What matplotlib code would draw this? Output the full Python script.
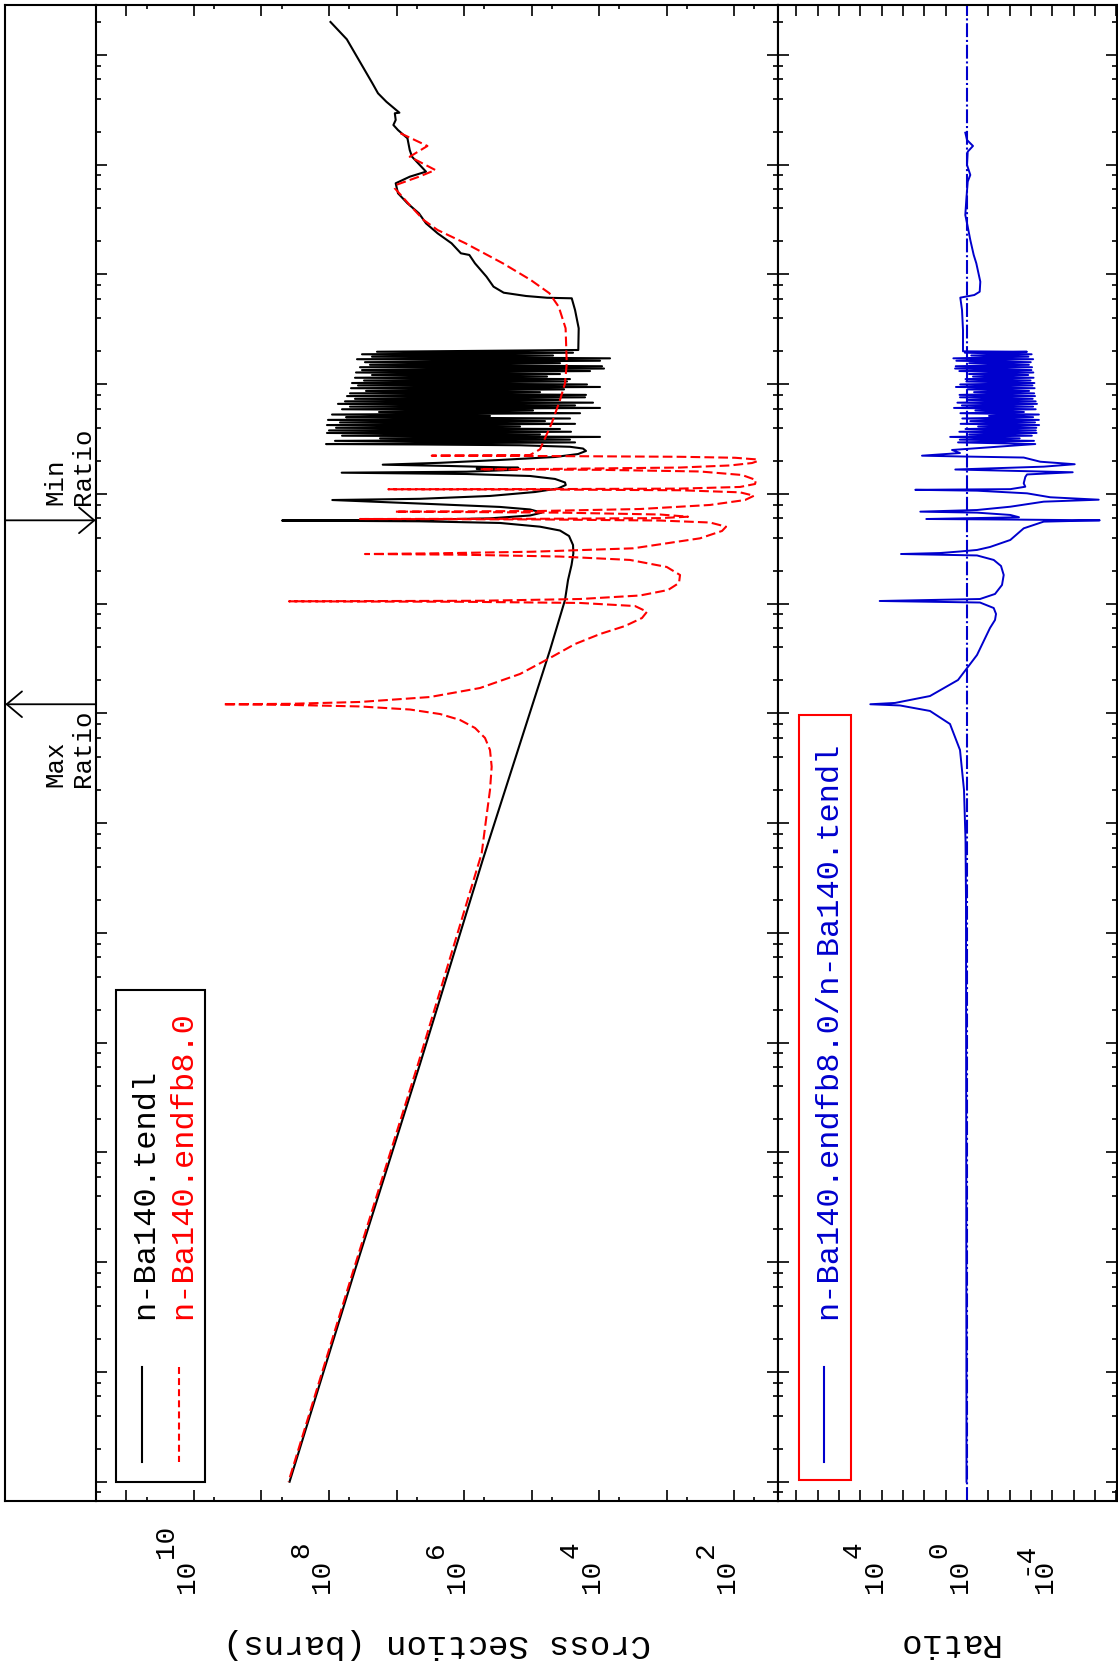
import numpy as np
import matplotlib
matplotlib.use("Agg")
import matplotlib.pyplot as plt
import matplotlib.transforms as mtransforms
from matplotlib.ticker import LogLocator, NullLocator, NullFormatter
from matplotlib.patches import Rectangle

plt.rcParams['font.family'] = ['Liberation Mono', 'DejaVu Sans Mono']
plt.rcParams['lines.scale_dashes'] = False

# all values below are log10 exponents
# energy in MeV, cross section in barns

# n-Ba140.tendl, smooth high-energy part
tendl_high_e = [2.301, 2.143, 1.742, 1.651, 1.574, 1.474, 1.469, 1.408, 1.362, 1.316,
                1.241, 1.134, 1.073, 0.937, 0.891, 0.831, 0.740, 0.649, 0.557, 0.466,
                0.375, 0.284, 0.193, 0.178, 0.102, -0.020, -0.111, -0.166, -0.196, -0.212,
                -0.217, -0.324, -0.490, -0.688]
tendl_high_xs = [7.978, 7.736, 7.357, 7.274, 7.150, 6.957, 7.025, 7.012, 7.046, 6.978,
                 6.838, 6.804, 6.770, 6.563, 6.804, 7.012, 6.978, 6.838, 6.667, 6.563,
                 6.391, 6.184, 6.046, 5.921, 5.838, 5.667, 5.563, 5.412, 5.081, 4.770,
                 4.404, 4.355, 4.301, 4.307]

# resonance forest (peak / valley), same energies used for the ratio
forest_e = [-0.704, -0.713, -0.727, -0.738, -0.749, -0.764, -0.772, -0.786, -0.799, -0.808,
            -0.823, -0.836, -0.845, -0.857, -0.871, -0.880, -0.893, -0.907, -0.916, -0.930,
            -0.941, -0.953, -0.966, -0.975, -0.989, -1.002, -1.011, -1.025, -1.036, -1.047,
            -1.061, -1.072, -1.083, -1.097, -1.108, -1.119, -1.133, -1.143, -1.156, -1.168,
            -1.179, -1.193, -1.204, -1.216, -1.228, -1.239, -1.253, -1.264, -1.276, -1.289,
            -1.300, -1.312, -1.325, -1.336, -1.348, -1.361, -1.372, -1.385, -1.397, -1.408,
            -1.421, -1.433, -1.444, -1.457, -1.469, -1.480, -1.493, -1.505, -1.516, -1.530,
            -1.545]
tendl_forest_xs = [7.289, 4.385, 7.511, 4.681, 7.363, 3.837, 7.585, 3.985, 7.467, 4.578,
                   7.393, 3.955, 7.541, 3.926, 7.511, 4.133, 7.600, 4.578, 7.363, 4.770,
                   7.615, 4.430, 7.481, 4.474, 7.659, 4.178, 7.570, 3.985, 7.674, 4.518,
                   7.452, 4.874, 7.689, 4.193, 7.733, 4.207, 7.615, 4.578, 7.763, 4.089,
                   7.867, 4.355, 7.689, 3.985, 7.807, 4.978, 7.259, 4.281, 7.955, 5.615,
                   7.748, 4.430, 8.015, 4.800, 7.837, 4.355, 8.030, 5.170, 7.896, 4.578,
                   8.000, 4.415, 8.030, 4.874, 7.807, 3.985, 7.244, 4.430, 7.911, 4.355,
                   8.044]

# big resolved resonances and 1/v tail
tendl_low_e = [-1.549, -1.556, -1.570, -1.586, -1.608, -1.636, -1.663, -1.690, -1.716, -1.733,
               -1.745, -1.761, -1.770, -1.779, -1.797, -1.806, -1.818, -1.836, -1.863, -1.895,
               -1.918, -1.950, -1.982, -2.018, -2.044, -2.055, -2.091, -2.118, -2.141, -2.170,
               -2.196, -2.222, -2.235, -2.242, -2.249, -2.264, -2.298, -2.333, -2.383, -2.465,
               -2.541, -2.647, -2.784, -2.966, -3.422, -5.335, -7.194, -9.071, -11.000]
tendl_low_xs = [6.652, 5.170, 4.430, 4.237, 4.193, 4.311, 4.652, 5.467, 6.355, 7.204,
                6.207, 5.195, 5.812, 5.219, 5.960, 7.812, 5.960, 5.022, 4.652, 4.504,
                4.493, 4.607, 4.948, 5.615, 6.652, 7.951, 6.504, 5.467, 5.022, 4.849,
                5.022, 5.615, 6.652, 8.696, 6.652, 5.467, 4.874, 4.578, 4.444, 4.385,
                4.380, 4.407, 4.459, 4.504, 4.726, 5.723, 6.652, 7.615, 8.584]

# n-Ba140.endfb8.0
endf_high_e = [1.287, 1.171, 1.073, 0.952, 0.891, 0.815, 0.785, 0.633, 0.496, 0.405,
               0.284, 0.102, -0.050, -0.171, -0.294, -0.490, -0.809, -0.992, -1.144, -1.356,
               -1.593, -1.645]
endf_high_xs = [6.942, 6.542, 6.804, 6.425, 6.667, 7.012, 7.025, 6.804, 6.597, 6.391,
                5.978, 5.425, 5.012, 4.735, 4.597, 4.495, 4.478, 4.504, 4.578, 4.701,
                4.874, 5.022]
endf_low_e = [-1.651, -1.655, -1.661, -1.670, -1.684, -1.699, -1.718, -1.740, -1.759, -1.771,
              -1.775, -1.780, -1.795, -1.827, -1.873, -1.909, -1.936, -1.951, -1.955, -1.957,
              -1.960, -1.966, -1.985, -2.016, -2.055, -2.100, -2.137, -2.155, -2.161, -2.170,
              -2.187, -2.207, -2.220, -2.226, -2.228, -2.232, -2.242, -2.260, -2.298, -2.337,
              -2.404, -2.495, -2.526, -2.541, -2.547, -2.553, -2.570, -2.601, -2.665, -2.738,
              -2.811, -2.875, -2.925, -2.957, -2.973, -2.978, -2.982, -2.993, -3.021, -3.073,
              -3.130, -3.203, -3.276, -3.367, -3.494, -3.640, -3.768, -3.850, -3.895, -3.912,
              -3.916, -3.922, -3.936, -3.964, -4.005, -4.059, -4.132, -4.223, -4.333, -4.485,
              -4.697, -4.970, -5.274, -7.194, -9.071, -11.000]
endf_low_xs = [6.478, 4.578, 2.800, 1.985, 1.689, 1.644, 1.733, 2.059, 2.800, 4.578,
               5.763, 3.985, 2.504, 1.881, 1.674, 1.689, 1.911, 2.800, 4.578, 7.121,
               4.578, 2.800, 1.911, 1.704, 1.837, 2.355, 3.393, 4.874, 7.022, 4.578,
               3.096, 2.681, 3.096, 4.874, 7.541, 4.874, 3.096, 2.355, 2.118, 2.178,
               2.504, 3.492, 4.978, 6.459, 7.467, 6.059, 4.578, 3.541, 2.997, 2.800,
               2.815, 2.978, 3.393, 4.281, 5.763, 8.593, 6.059, 4.281, 3.467, 3.289,
               3.363, 3.615, 3.985, 4.355, 4.726, 5.170, 5.763, 6.504, 7.541, 8.578,
               9.570, 8.578, 7.541, 6.800, 6.355, 6.059, 5.837, 5.689, 5.615, 5.590,
               5.615, 5.674, 5.738, 6.681, 7.637, 8.600]

# ratio endfb8.0 / tendl
ratio_high_e = [1.292, 1.2255, 1.171, 1.119, 0.998, 0.907, 0.846, 0.679, 0.542, 0.436,
                0.314, 0.178, 0.102, -0.066, -0.157, -0.187, -0.211, -0.324, -0.506, -0.700]
ratio_high = [0.080, 0.000, -0.281, -0.033, 0.000, -0.155, -0.033, 0.033, 0.080, -0.033,
              -0.155, -0.314, -0.436, -0.624, -0.595, -0.342, 0.314, 0.234, 0.188, 0.188]
ratio_forest = [-2.81, 0.10, -3.03, -0.20, -2.88, 0.64, -3.10, 0.50, -2.99, -0.10,
                -2.90, 0.53, -3.05, 0.56, -3.02, 0.36, -3.11, -0.09, -2.87, -0.28,
                -3.12, 0.07, -2.98, 0.03, -3.16, 0.32, -3.07, 0.52, -3.17, -0.02,
                -2.91, -0.33, -3.15, 0.35, -3.19, 0.33, -3.08, -0.04, -3.22, 0.45,
                -3.28, 0.24, -3.10, 0.61, -3.22, -0.39, -2.67, 0.31, -3.37, -1.03,
                -3.10, 0.22, -3.37, -0.15, -3.19, 0.30, -3.38, -0.52, -3.25, 0.07,
                -3.23, 0.36, -3.26, -0.10, -3.04, 0.79, -2.47, 0.34, -3.14, 0.42,
                -3.20]
ratio_low_e = [-1.599, -1.627, -1.651, -1.658, -1.668, -1.706, -1.729, -1.751, -1.777, -1.802,
               -1.822, -1.845, -1.903, -1.934, -1.956, -1.962, -1.970, -1.994, -2.030, -2.052,
               -2.070, -2.116, -2.146, -2.161, -2.170, -2.191, -2.212, -2.228, -2.233, -2.240,
               -2.252, -2.313, -2.419, -2.483, -2.510, -2.524, -2.538, -2.547, -2.560, -2.601,
               -2.656, -2.738, -2.829, -2.911, -2.957, -2.975, -2.989, -3.039, -3.093, -3.148,
               -3.221, -3.467, -3.695, -3.841, -3.904, -3.916, -3.927, -3.977, -4.096, -4.333,
               -4.697, -5.153, -5.699, -11.000]
ratio_low = [0.703, 0.328, 2.110, 0.328, -2.658, -3.436, -5.049, -3.596, 0.549, -4.955,
             -2.813, -2.733, -2.658, -2.733, -2.030, 2.424, -0.469, -2.813, -3.905, -6.174,
             -3.596, -2.030, -0.469, 2.189, -0.469, -2.030, -2.438, 1.908, -2.030, -6.221,
             -3.596, -2.658, -2.030, -1.078, -0.469, 0.328, 1.266, 3.094, -0.469, -1.252,
             -1.594, -1.721, -1.641, -1.313, -0.609, 4.093, -0.609, -1.252, -1.360, -1.313,
             -1.078, -0.469, 0.422, 1.735, 3.375, 4.534, 3.141, 1.735, 0.797, 0.328,
             0.141, 0.070, 0.047, 0.023]

min_ratio_e = -2.240
max_ratio_e = -3.916

xs_label_powers = [10, 8, 6, 4, 2]
ratio_label_powers = [4, 0, -4]

# axis ranges (log10)
e_lim = (-11.173, 2.4555)
xs_lim = (11.456, 1.353)
ratio_lim = (8.875, -7.032)

tendl_e = 10.0 ** np.array(tendl_high_e + forest_e + tendl_low_e)
tendl_xs = 10.0 ** np.array(tendl_high_xs + tendl_forest_xs + tendl_low_xs)
endf_e = 10.0 ** np.array(endf_high_e + endf_low_e)
endf_xs = 10.0 ** np.array(endf_high_xs + endf_low_xs)
ratio_e = 10.0 ** np.array(ratio_high_e + forest_e + ratio_low_e)
ratio_v = 10.0 ** np.array(ratio_high + ratio_forest + ratio_low)

W, H = 1118, 1669
BLUE = '#0000cd'
fig = plt.figure(figsize=(W / 100, H / 100), dpi=100)


def box(x0, x1, y0, y1):
    return [x0 / W, 1 - y1 / H, (x1 - x0) / W, (y1 - y0) / H]


ax0 = fig.add_axes(box(5.3, 95.7, 5, 1500.7))
ax1 = fig.add_axes(box(95.7, 777.7, 5, 1500.7))
ax2 = fig.add_axes(box(777.7, 1117, 5, 1500.7))

for ax in (ax0, ax1, ax2):
    ax.set_yscale('log')
    ax.set_ylim(10.0 ** e_lim[0], 10.0 ** e_lim[1])
    for s in ax.spines.values():
        s.set_linewidth(1.5)

# strip with the max/min ratio markers
ax0.set_xlim(0, 1)
ax0.set_xticks([])
ax0.yaxis.set_major_locator(NullLocator())
ax0.yaxis.set_minor_locator(NullLocator())
ax0.spines['right'].set_visible(False)
arrow = dict(arrowstyle='->,head_length=0.5,head_width=0.42', lw=1.3, color='black',
             shrinkA=0, shrinkB=0, mutation_scale=22)
ax0.annotate('', xy=(1, 10.0 ** min_ratio_e), xytext=(0, 10.0 ** min_ratio_e), arrowprops=arrow)
ax0.annotate('', xy=(0, 10.0 ** max_ratio_e), xytext=(1, 10.0 ** max_ratio_e), arrowprops=arrow)

# cross sections
ax1.set_xscale('log')
ax1.set_xlim(10.0 ** xs_lim[0], 10.0 ** xs_lim[1])
ax1.plot(tendl_xs, tendl_e, color='black', lw=1.5)
ax1.plot(endf_xs, endf_e, color='red', lw=1.5, dashes=(7, 3))
ax1.xaxis.set_major_locator(LogLocator(base=10, numticks=40))
ax1.xaxis.set_minor_locator(LogLocator(base=10, subs=[5.0], numticks=40))

# ratio
ax2.set_xscale('log')
ax2.set_xlim(10.0 ** ratio_lim[0], 10.0 ** ratio_lim[1])
ax2.axvline(1.0, color=BLUE, lw=1.5, dashes=(10, 2, 1.5, 2))
ax2.plot(ratio_v, ratio_e, color=BLUE, lw=1.4)
ax2.xaxis.set_major_locator(LogLocator(base=10, numticks=40))
ax2.xaxis.set_minor_locator(NullLocator())

for ax in (ax1, ax2):
    ax.yaxis.set_major_locator(LogLocator(base=10, numticks=40))
    ax.yaxis.set_minor_locator(LogLocator(base=10, subs=[2.0, 4.0, 6.0, 8.0], numticks=40))
    ax.xaxis.set_minor_formatter(NullFormatter())
    ax.yaxis.set_minor_formatter(NullFormatter())
    ax.tick_params(which='both', direction='in', top=True, bottom=True, left=True, right=True,
                   labelbottom=False, labelleft=False, width=1.2)
    ax.tick_params(which='major', length=7.9)
    ax.tick_params(axis='x', which='minor', length=2.9)
    ax.tick_params(axis='y', which='minor', length=3.6)

# overlay in pixel coordinates for labels and legends
ov = fig.add_axes([0, 0, 1, 1], facecolor='none')
ov.set_xlim(0, W)
ov.set_ylim(H, 0)
ov.axis('off')

lab = dict(rotation=90, rotation_mode='anchor', ha='left', va='baseline', fontsize=20)
shift = mtransforms.ScaledTranslation(-21 / 100, 0, fig.dpi_scale_trans)
tr1 = mtransforms.blended_transform_factory(ax1.transData, ov.transData)
tr2 = mtransforms.blended_transform_factory(ax2.transData, ov.transData)
for p in xs_label_powers:
    ov.text(10.0 ** p, 1593, '10', transform=tr1, **lab)
    ov.text(10.0 ** p, 1558, str(p), transform=tr1 + shift, **lab)
for p in ratio_label_powers:
    ov.text(10.0 ** p, 1593, '10', transform=tr2, **lab)
    ov.text(10.0 ** p, 1575 if p < 0 else 1558, str(p), transform=tr2 + shift, **lab)

ov.text(437.5, 1643, 'Cross Section (barns)', rotation=180, ha='center', va='center', fontsize=24.5)
ov.text(947.5, 1642.5, 'Ratio', rotation=180, ha='center', va='center', fontsize=24.5)

mm = dict(rotation=90, rotation_mode='anchor', ha='left', va='baseline', fontsize=18.5)
ov.text(62, 505, 'Min', **mm)
ov.text(90, 505, 'Ratio', **mm)
ov.text(62, 787, 'Max', **mm)
ov.text(90, 787, 'Ratio', **mm)

# legends
leg = dict(rotation=90, rotation_mode='anchor', ha='left', va='baseline', fontsize=23)
ov.add_patch(Rectangle((116, 990), 89, 492, fill=False, ec='black', lw=1.5))
ov.plot([142, 142], [1367, 1461.7], color='black', lw=1.5)
ov.plot([178.5, 178.5], [1367, 1461.7], color='red', lw=1.5, dashes=(5, 3))
ov.text(153, 1319, 'n-Ba140.tendl', color='black', **leg)
ov.text(191.7, 1319, 'n-Ba140.endfb8.0', color='red', **leg)

ov.add_patch(Rectangle((798.5, 715), 52.5, 765, fill=False, ec='red', lw=1.5))
ov.plot([824.3, 824.3], [1367, 1461.7], color=BLUE, lw=1.5)
ov.text(836, 1319, 'n-Ba140.endfb8.0/n-Ba140.tendl', color=BLUE, **leg)

fig.savefig('out.png', dpi=100)
